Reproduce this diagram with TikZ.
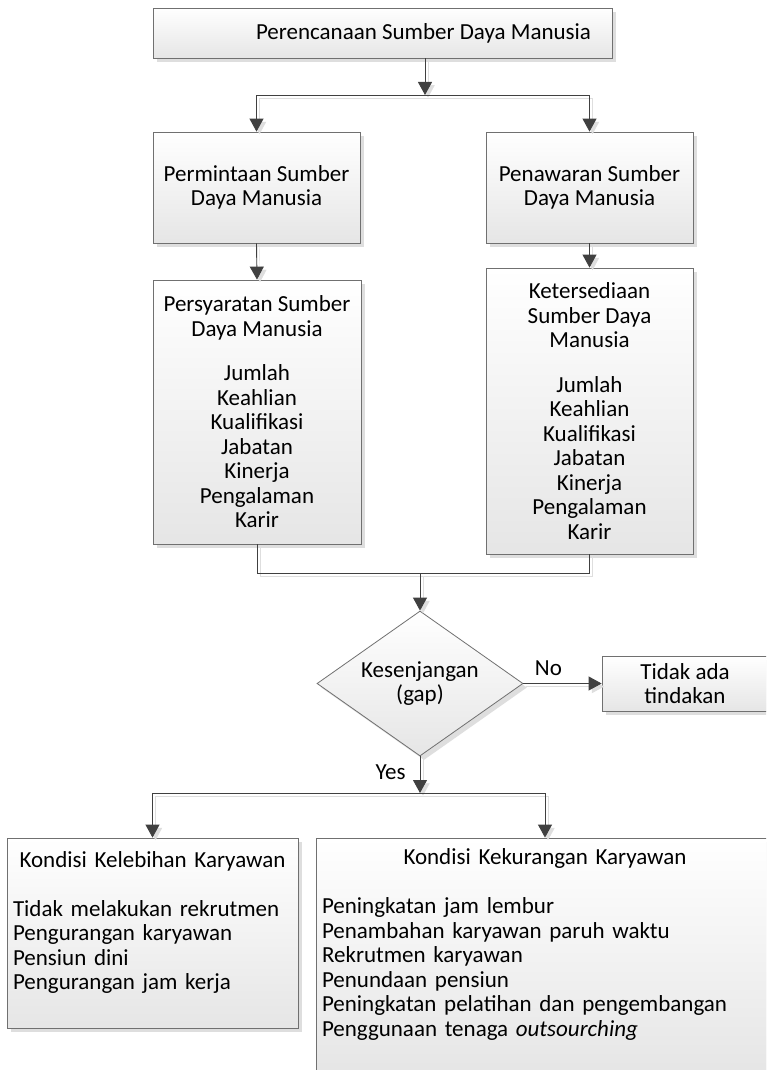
\documentclass[tikz,border=0pt]{standalone}
\usepackage{fontspec}
\setmainfont{Carlito}
\usetikzlibrary{shapes.geometric,shadows,arrows.meta}
\definecolor{linegray}{HTML}{404040}
\definecolor{bordergray}{HTML}{707070}
\definecolor{shadowgray}{HTML}{DEDEDE}
\newcommand\fsz{\fontsize{23}{24.5}\selectfont}
\tikzset{
  every node/.style={font=\fsz},
  box/.style={draw=bordergray, line width=0.8pt, top color=white, bottom color=black!10,
    drop shadow={shadow xshift=4pt, shadow yshift=-4pt, fill=shadowgray, opacity=1},
    inner sep=6pt, align=center},
  wire/.style={draw=linegray, line width=0.9pt,
    preaction={draw=shadowgray, transform canvas={shift={(3pt,-3pt)}}}},
  conn/.style={wire, -{Triangle[length=13pt,width=14pt]}},
  lbl/.style={inner sep=2pt, text=black}
}
\begin{document}
\begin{tikzpicture}[x=1pt,y=-1pt]
\useasboundingbox (0,0) rectangle (766,1070);
\fill[white] (0,0) rectangle (766,1070);
\clip (0,0) rectangle (766,1070);

% nodes
\node[box, minimum width=459pt, minimum height=50pt] (top) at (382.5,33)
  {\hspace*{82pt}Perencanaan Sumber Daya Manusia};
\node[box, minimum width=207pt, minimum height=111pt] (perm) at (256.5,187.5)
  {Permintaan Sumber\\Daya Manusia};
\node[box, minimum width=207pt, minimum height=111pt] (pena) at (589.5,187.5)
  {Penawaran Sumber\\Daya Manusia};
\node[box, minimum width=208pt, minimum height=264pt, inner xsep=3pt] (pers) at (257,412)
  {Persyaratan Sumber\\Daya Manusia\\[20pt]Jumlah\\Keahlian\\Kualifikasi\\Jabatan\\Kinerja\\Pengalaman\\Karir};
\node[box, minimum width=207pt, minimum height=286pt] (kete) at (589.5,411)
  {Ketersediaan\\Sumber Daya\\Manusia\\[20pt]Jumlah\\Keahlian\\Kualifikasi\\Jabatan\\Kinerja\\Pengalaman\\Karir};
\node[box, shape=diamond, minimum width=206pt, minimum height=145pt, inner sep=0pt, aspect=1.42] (gap) at (420,683.5)
  {Kesenjangan\\(gap)};
\node[box, minimum width=166pt, minimum height=55pt] (none) at (685,683.5)
  {Tidak ada\\tindakan};
\node[box, minimum width=291pt, minimum height=190pt, text width=279pt, align=left] (lebih) at (152.5,933)
  {\makebox[\linewidth]{Kondisi Kelebihan Karyawan}\\[24.5pt]
   Tidak melakukan rekrutmen\\Pengurangan karyawan\\Pensiun dini\\Pengurangan jam kerja\\\mbox{}};
\node[box, minimum width=458pt, minimum height=234pt, text width=446pt, align=left] (kurang) at (545,955)
  {\makebox[\linewidth]{Kondisi Kekurangan Karyawan}\\[24.5pt]
   Peningkatan jam lembur\\Penambahan karyawan paruh waktu\\Rekrutmen karyawan\\Penundaan pensiun\\
   Peningkatan pelatihan dan pengembangan\\Penggunaan tenaga \textit{outsourching}\\\mbox{}};

% junctions
\coordinate (j1) at (425,95);
\coordinate (j2) at (420,573);
\coordinate (j3) at (420,793);

% connectors
\draw[conn] (j1 |- top.south) -- (j1);
\draw[conn] (j1) -| (perm.north);
\draw[conn] (j1) -| (pena.north);
\draw[conn] (perm.south) -- (pers.north);
\draw[conn] (pena.south) -- (kete.north);
\draw[wire] (pers.south) |- (j2);
\draw[wire] (kete.south) |- (j2);
\draw[conn] (j2) -- (gap.north);
\draw[conn] (gap.east) -- node[lbl, pos=0.32, above=5pt] (no) {No} (none.west);
\draw[conn] (gap.south) -- node[lbl, pos=0.42, left=12pt] (yes) {Yes} (j3);
\draw[conn] (j3) -| (lebih.north);
\draw[conn] (j3) -| (kurang.north);
\end{tikzpicture}
\end{document}
